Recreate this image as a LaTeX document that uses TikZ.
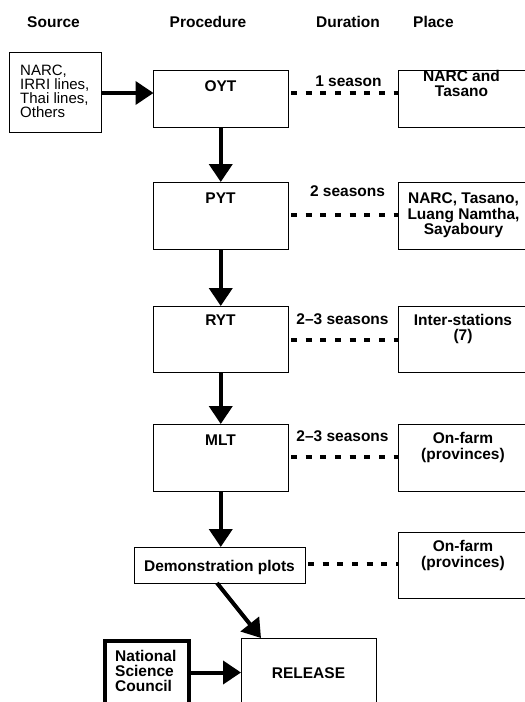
\documentclass[tikz,border=0pt]{standalone}
\usepackage{fontspec}
\setmainfont{Liberation Sans}
\usetikzlibrary{arrows.meta,calc}
\begin{document}
\begin{tikzpicture}[x=1pt,y=-1pt,
  box/.style={draw,line width=1pt,inner sep=0pt,outer sep=0pt,anchor=north west},
  bt/.style={font=\fontsize{15.5}{16}\selectfont\bfseries,inner sep=0pt,anchor=base},
  btw/.style={bt,anchor=base west},
  rt/.style={font=\fontsize{15}{14}\selectfont,inner sep=0pt,anchor=base west},
  flow/.style={line width=4pt,-{Triangle[length=18pt,width=23pt]}},
  dotl/.style={line width=4pt,dash pattern=on 6pt off 8.67pt,dash phase=11.67pt}]
\clip (0,0) rectangle (525,702);
\fill[white] (0,0) rectangle (525,702);
% headers
\node[bt] (hsrc) at (53.5,27) {Source};
\node[bt] (hproc) at (208,27) {Procedure};
\node[bt] (hdur) at (348,27) {Duration};
\node[btw] (hplace) at (413,27) {Place};
% boxes
\node[box,minimum width=92pt,minimum height=80pt] (src) at (9,52) {};
\node[box,minimum width=134.5pt,minimum height=57pt] (oyt) at (153.5,70) {};
\node[box,minimum width=134.5pt,minimum height=67pt] (pyt) at (153.5,182) {};
\node[box,minimum width=134.5pt,minimum height=66pt] (ryt) at (153.5,306) {};
\node[box,minimum width=134.5pt,minimum height=67pt] (mlt) at (153.5,424) {};
\node[box,minimum width=171pt,minimum height=36pt] (demo) at (134,547) {};
\node[box,minimum width=135pt,minimum height=90pt] (release) at (241,638) {};
\node[box,line width=4pt,minimum width=83.7pt,minimum height=90pt] (nsc) at (105,641.3) {};
\node[box,minimum width=150pt,minimum height=57pt] (p1) at (398,70) {};
\node[box,minimum width=150pt,minimum height=67pt] (p2) at (398,182) {};
\node[box,minimum width=150pt,minimum height=66pt] (p3) at (398,306) {};
\node[box,minimum width=150pt,minimum height=67pt] (p4) at (398,424) {};
\node[box,minimum width=150pt,minimum height=66pt] (p5) at (398,532) {};
% texts
\node[rt] (s1) at (20,75) {NARC,};
\node[rt] (s2) at (20,89) {IRRI lines,};
\node[rt] (s3) at (20,103) {Thai lines,};
\node[rt] (s4) at (20,117) {Others};
\node[bt] (toyt) at (220.5,91) {OYT};
\node[bt] (d1) at (348.5,86) {1 season};
\node[bt] (p1a) at (461.5,81.7) {NARC and};
\node[bt] (p1b) at (461.5,96.7) {Tasano};
\node[bt] (tpyt) at (220.5,203) {PYT};
\node[bt] (d2) at (347.5,196) {2 seasons};
\node[bt] (p2a) at (463.5,203) {NARC, Tasano,};
\node[bt] (p2b) at (463.5,219) {Luang Namtha,};
\node[bt] (p2c) at (463.5,234) {Sayaboury};
\node[bt] (tryt) at (220.5,325.5) {RYT};
\node[bt] (d3) at (342.5,324) {2–3 seasons};
\node[bt] (p3a) at (463,325) {Inter-stations};
\node[bt] (p3b) at (463,340) {(7)};
\node[bt] (tmlt) at (220.5,445) {MLT};
\node[bt] (d4) at (342.5,441.7) {2–3 seasons};
\node[bt] (p4a) at (463,443) {On-farm};
\node[bt] (p4b) at (463,459) {(provinces)};
\node[bt] (tdemo) at (219.5,571.7) {Demonstration plots};
\node[bt] (p5a) at (463,551.7) {On-farm};
\node[bt] (p5b) at (463,567) {(provinces)};
\node[bt] (trel) at (308.5,678) {RELEASE};
\node[btw] (n1) at (115,661.7) {National};
\node[btw] (n2) at (115,676) {Science};
\node[btw] (n3) at (115,691) {Council};
% arrows
\draw[flow] (src.east |- 0,93) -- (oyt.west |- 0,93);
\draw[flow] (oyt.south) -- (pyt.north);
\draw[flow] (pyt.south) -- (ryt.north);
\draw[flow] (ryt.south) -- (mlt.north);
\draw[flow] (mlt.south) -- (mlt.south |- demo.north);
\draw[flow] ($(demo.south)+(-2.5,0)$) -- ($(release.north west)+(20,0)$);
\draw[flow] (nsc.east |- 0,672.5) -- (release.west |- 0,672.5);
% dotted links
\draw[dotl] (oyt.east |- 0,93) -- (p1.west |- 0,93);
\draw[dotl] (pyt.east |- 0,215) -- (p2.west |- 0,215);
\draw[dotl] (ryt.east |- 0,340) -- (p3.west |- 0,340);
\draw[dotl] (mlt.east |- 0,457.3) -- (p4.west |- 0,457.3);
\draw[dotl] (demo.east |- 0,564.3) -- (p5.west |- 0,564.3);
\end{tikzpicture}
\end{document}
